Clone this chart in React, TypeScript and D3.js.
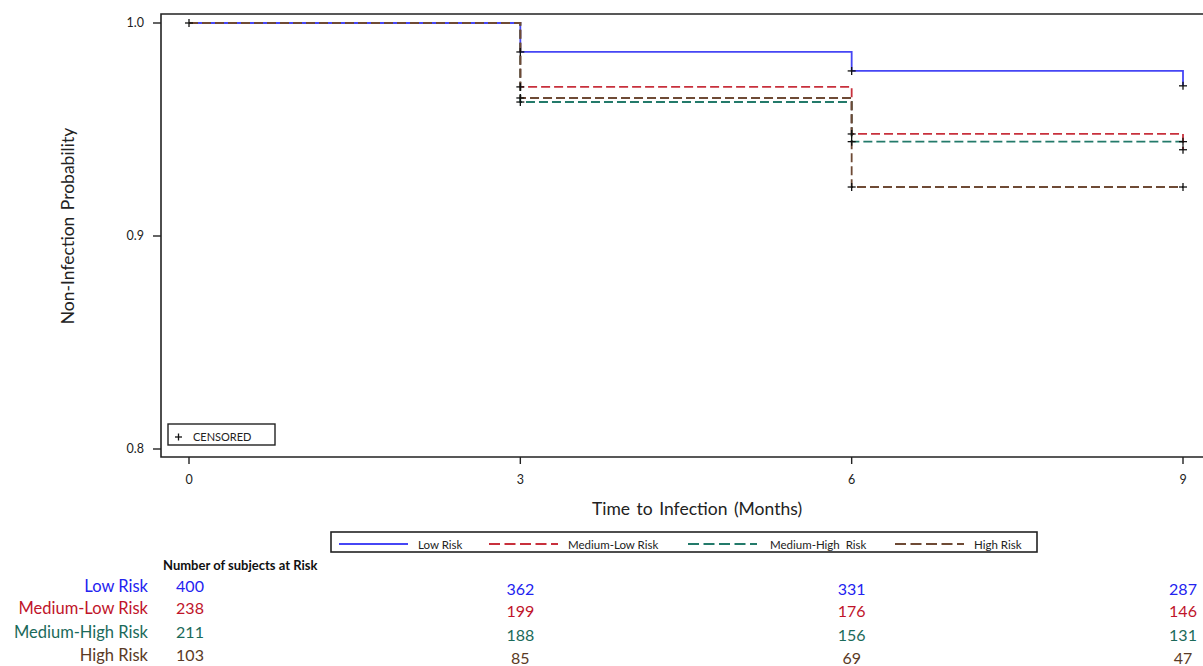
import React from 'react';
import {scaleLinear, line, curveStepAfter} from 'd3';

// months at which the curves and the at-risk table are read
const months = [0, 3, 6, 9];
const yTicks = [0.8, 0.9, 1.0];

const groups = ['Low Risk', 'Medium-Low Risk', 'Medium-High Risk', 'High Risk'];
const legendLabels = ['Low Risk', 'Medium-Low Risk', 'Medium-High  Risk', 'High Risk'];
const lowRisk = [1.0, 0.9864, 0.9775, 0.9705];
const mediumLowRisk = [1.0, 0.970, 0.9479, 0.9405];
const mediumHighRisk = [1.0, 0.9629, 0.9443, 0.9443];
const highRisk = [1.0, 0.9648, 0.923, 0.923];

const atRiskLow = [400, 362, 331, 287];
const atRiskMediumLow = [238, 199, 176, 146];
const atRiskMediumHigh = [211, 188, 156, 131];
const atRiskHigh = [103, 85, 69, 47];

const lineColors = ['#4646f5', '#c8303c', '#237a6a', '#6e4a35'];
const textColors = ['#2323f0', '#c0142a', '#1b6a5a', '#5a3a25'];
const dashes = [null, '9,4', '9,4', '9,4'];
const legendDashes = [null, '11,4.5', '11,4.5', '11,4.5'];

const font = 'Lato, "Open Sans", sans-serif';

export default function App() {
    const series = [lowRisk, mediumLowRisk, mediumHighRisk, highRisk];
    const atRisk = [atRiskLow, atRiskMediumLow, atRiskMediumHigh, atRiskHigh];

    const frame = {left: 161, top: 14, bottom: 457, right: 1215};
    const x = scaleLinear().domain([0, 9]).range([189, 1183]);
    const y = scaleLinear().domain([0.8, 1.0]).range([449, 23]);

    const stepLine = line<number>()
        .x((d, i) => x(months[i]))
        .y(d => y(d))
        .curve(curveStepAfter);

    // censored marks: one at the start, then one on each curve at every later month
    const marks: {t: number, v: number}[] = [{t: 0, v: 1.0}];
    series.forEach(s => s.forEach((v, i) => { if (i > 0) marks.push({t: months[i], v}) }));

    const legendItems = [
        {lx: 339, tx: 418},
        {lx: 489, tx: 568},
        {lx: 688, tx: 770},
        {lx: 895, tx: 974},
    ];
    const rowY = [592, 614, 638, 661];

    return (
        <svg width={1203} height={666} style={{position: 'absolute', left: 0, top: 0, background: '#fff'}}>
            {/* frame */}
            <path
                d={`M${frame.right},${frame.top}H${frame.left}V${frame.bottom}H${frame.right}`}
                fill="none" stroke="#222" strokeWidth={1.6}
            />

            {/* y axis */}
            {yTicks.map(t => (
                <g key={t}>
                    <line x1={153} x2={frame.left} y1={y(t)} y2={y(t)} stroke="#222" strokeWidth={1.4}/>
                    <text x={144} y={y(t)} dy="0.35em" textAnchor="end" fontFamily={font} fontSize={12.5} fill="#222">
                        {t.toFixed(1)}
                    </text>
                </g>
            ))}
            <text
                transform={`translate(74,226) rotate(-90)`}
                textAnchor="middle" fontFamily={font} fontSize={17.5} wordSpacing={2} fill="#222"
            >Non-Infection  Probability</text>

            {/* x axis */}
            {months.map(m => (
                <g key={m}>
                    <line x1={x(m)} x2={x(m)} y1={frame.bottom} y2={464} stroke="#222" strokeWidth={1.4}/>
                    <text x={x(m)} y={484} textAnchor="middle" fontFamily={font} fontSize={12.5} fill="#222">{m}</text>
                </g>
            ))}
            <text x={697} y={515} textAnchor="middle" fontFamily={font} fontSize={17.5} wordSpacing={2} fill="#222">
                Time to Infection (Months)
            </text>

            {/* survival curves */}
            {series.map((s, i) => (
                <path
                    key={groups[i]}
                    d={stepLine(s) || ''}
                    fill="none"
                    stroke={lineColors[i]}
                    strokeWidth={1.8}
                    strokeDasharray={dashes[i] || undefined}
                />
            ))}

            {/* censored marks */}
            {marks.map((m, i) => (
                <g key={i} stroke="#111" strokeWidth={1.3}>
                    <line x1={x(m.t) - 4} x2={x(m.t) + 4} y1={y(m.v)} y2={y(m.v)}/>
                    <line x1={x(m.t)} x2={x(m.t)} y1={y(m.v) - 4} y2={y(m.v) + 4}/>
                </g>
            ))}

            {/* censored legend */}
            <rect x={168} y={424} width={107} height={21} fill="#fff" stroke="#222" strokeWidth={1.4}/>
            <g stroke="#111" strokeWidth={1.3}>
                <line x1={175} x2={182} y1={437} y2={437}/>
                <line x1={178.5} x2={178.5} y1={433.5} y2={440.5}/>
            </g>
            <text x={193} y={441} fontFamily={font} fontSize={11} fill="#222">CENSORED</text>

            {/* group legend */}
            <rect x={331} y={532} width={706} height={20} fill="#fff" stroke="#222" strokeWidth={1.6}/>
            {legendItems.map((it, i) => (
                <g key={groups[i]}>
                    <line
                        x1={it.lx} x2={it.lx + 69} y1={544} y2={544}
                        stroke={lineColors[i]} strokeWidth={1.8}
                        strokeDasharray={legendDashes[i] || undefined}
                    />
                    <text x={it.tx} y={548.5} fontFamily={font} fontSize={11.5} fill="#222" style={{whiteSpace: 'pre'}}>
                        {legendLabels[i]}
                    </text>
                </g>
            ))}

            {/* number at risk table */}
            <text x={163} y={570} fontFamily={font} fontSize={13} fontWeight="bold" fill="#111">
                Number of subjects at Risk
            </text>
            {groups.map((g, r) => (
                <g key={g}>
                    <text x={148} y={rowY[r]} textAnchor="end" fontFamily={font} fontSize={16.5} fill={textColors[r]}>{g}</text>
                    {atRisk[r].map((n, c) => (
                        <text
                            key={c}
                            x={x(months[c]) + (c === 0 ? 1 : 0)}
                            y={rowY[r] + (c === 0 ? 0 : 2.5)}
                            textAnchor="middle"
                            fontFamily={font}
                            fontSize={16}
                            fill={textColors[r]}
                        >{n}</text>
                    ))}
                </g>
            ))}
        </svg>
    );
}
